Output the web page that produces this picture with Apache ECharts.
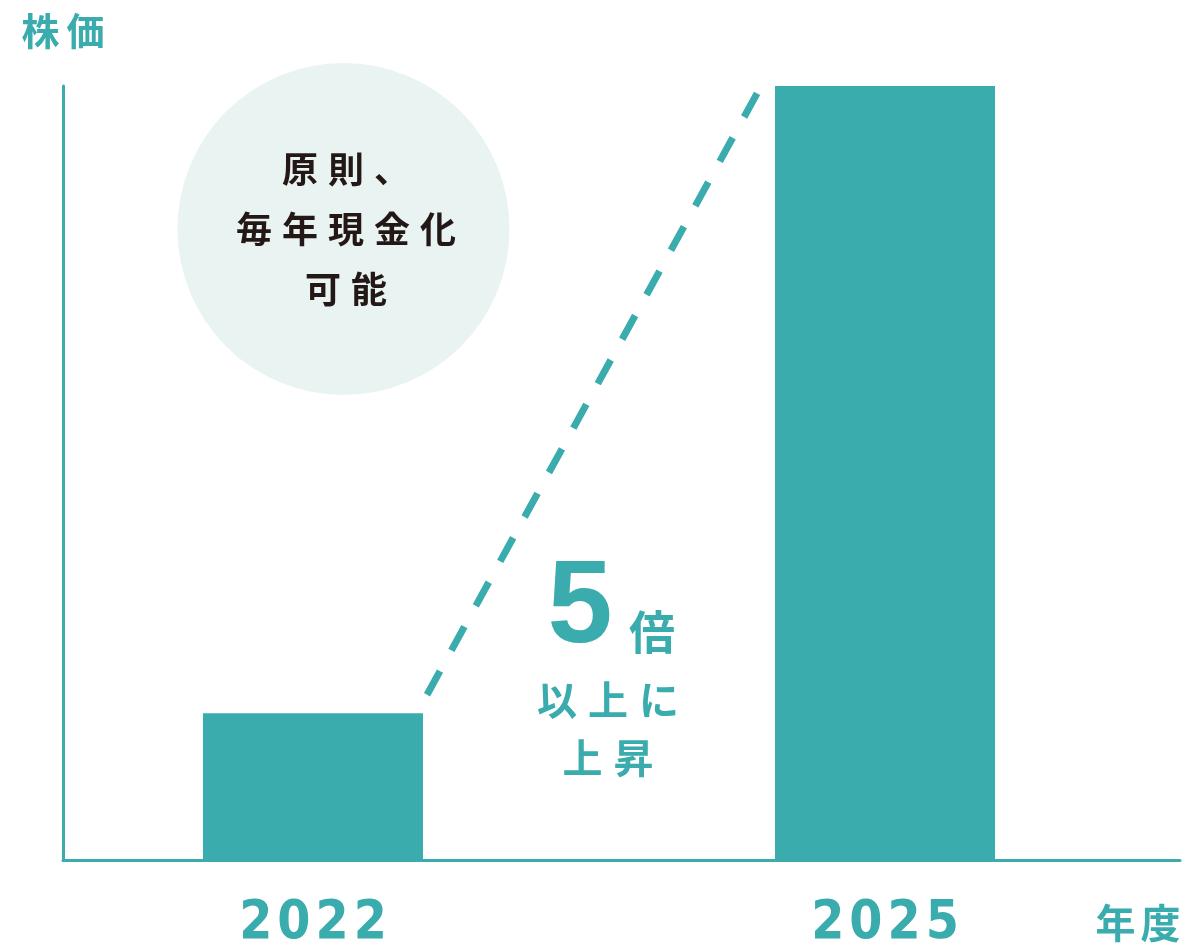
<!DOCTYPE html>
<html>
<head>
<meta charset="utf-8">
<script src="https://cdn.jsdelivr.net/npm/echarts@6/dist/echarts.min.js"></script>
<style>html,body{margin:0;padding:0;background:#fff}#c{width:1200px;height:947px}</style>
</head>
<body>
<div id="c"></div>
<script>
// ---- data ----
const years = [2022, 2025];
const prices = [1.0, 5.27];
const yearLabels = ['2022', '2025'];
const trendX = [2022.598, 2024.329];
const trendY = [1.125, 5.22];
const xMin = 2020.689;
const xMax = 2026.547;
const yMax = 5.27;
const yName = '株価';
const xName = '年度';
const circleLines = ['原則、', '毎年現金化', '可能'];
const multText = '5';
const multUnit = '倍';
const riseLines = ['以上に', '上昇'];

const TEAL = '#3aacad';
const DARK = '#231815';
const CJK = '"Noto Sans CJK JP","Noto Sans CJK SC",sans-serif';
const DIG = '"DejaVu Sans Condensed","Liberation Sans Narrow",Roboto,sans-serif';

function spaced(s, key) {
  return Array.from(s).map(c => '{' + key + '|' + c + '}').join('');
}

const chart = echarts.init(document.getElementById('c'));
chart.setOption({
  animation: false,
  backgroundColor: '#fff',
  grid: { left: 63, right: 20, top: 86, bottom: 87, containLabel: false, outerBoundsMode: 'none' },
  xAxis: {
    type: 'value', min: xMin, max: xMax,
    splitLine: { show: false },
    axisTick: { show: false },
    axisLine: { show: true, lineStyle: { color: TEAL, width: 3 } },
    axisLabel: {
      customValues: years,
      margin: 38,
      formatter: v => spaced(yearLabels[years.indexOf(Math.round(v))] || '', 'd'),
      rich: {
        d: { fontFamily: DIG, fontWeight: 'bold', fontSize: 53, color: TEAL, padding: [0, 2.5] }
      }
    }
  },
  yAxis: {
    type: 'value', min: 0, max: yMax,
    splitLine: { show: false },
    axisTick: { show: false },
    axisLabel: { show: false },
    axisLine: { show: true, lineStyle: { color: TEAL, width: 3 } },
    name: spaced(yName, 't'),
    nameLocation: 'end',
    nameGap: 36,
    nameTextStyle: {
      rich: { t: { fontFamily: CJK, fontWeight: 'bold', fontSize: 38, color: TEAL, padding: [0, 3.5] } }
    }
  },
  graphic: [
    { type: 'circle', shape: { cx: 343.5, cy: 229, r: 166 }, style: { fill: '#e8f3f2' }, z: 0 },
    {
      type: 'text', x: 346, y: 229, z: 5,
      style: {
        text: circleLines.map(l => spaced(l, 'c')).join('\n'),
        align: 'center', verticalAlign: 'middle',
        rich: { c: { fontFamily: CJK, fontWeight: 'bold', fontSize: 36, fill: DARK, padding: [0, 5], lineHeight: 60 } }
      }
    },
    {
      type: 'text', x: 580, y: 610, z: 5,
      style: { text: multText, align: 'center', verticalAlign: 'middle',
        font: 'bold 117px "Liberation Sans", Arial, sans-serif', fill: TEAL }
    },
    {
      type: 'text', x: 652, y: 632, z: 5,
      style: { text: multUnit, align: 'center', verticalAlign: 'middle',
        font: 'bold 46px ' + CJK, fill: TEAL }
    },
    {
      type: 'text', x: 608, y: 729, z: 5,
      style: {
        text: riseLines.map(l => spaced(l, 'r')).join('\n'),
        align: 'center', verticalAlign: 'middle',
        rich: { r: { fontFamily: CJK, fontWeight: 'bold', fontSize: 40, fill: TEAL, padding: [0, 5.5], lineHeight: 58 } }
      }
    },
    {
      type: 'text', x: 1138, y: 923, z: 5,
      style: {
        text: spaced(xName, 'n'), align: 'center', verticalAlign: 'middle',
        rich: { n: { fontFamily: CJK, fontWeight: 'bold', fontSize: 40, fill: TEAL, padding: [0, 2.5] } }
      }
    }
  ],
  series: [
    {
      type: 'bar',
      data: years.map((y, i) => [y, prices[i]]),
      barWidth: 220,
      itemStyle: { color: TEAL },
      z: 2
    },
    {
      type: 'line',
      data: trendX.map((x, i) => [x, trendY[i]]),
      symbol: 'none',
      lineStyle: { color: TEAL, width: 7, type: [27, 23.7], cap: 'butt' },
      z: 3
    }
  ]
});
</script>
</body>
</html>
